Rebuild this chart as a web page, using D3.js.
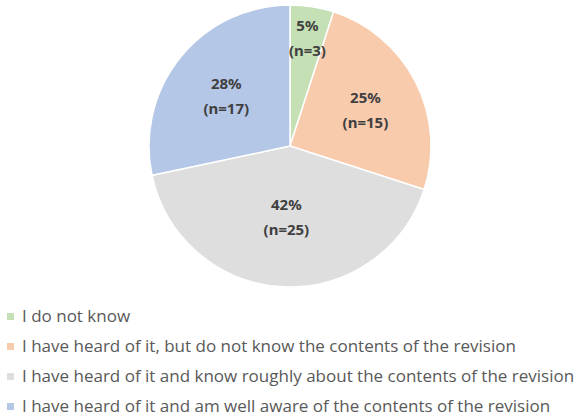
<!DOCTYPE html>
<html>
<head>
<meta charset="utf-8">
<script src="https://cdn.jsdelivr.net/npm/d3@7"></script>
<style>
  body { margin: 0; background: #fff; }
  svg { display: block; }
</style>
</head>
<body>
<script>
const width = 579
const height = 416

// data
const categories = [
  "I do not know",
  "I have heard of it, but do not know the contents of the revision",
  "I have heard of it and know roughly about the contents of the revision",
  "I have heard of it and am well aware of the contents of the revision"
]
const counts = [3, 15, 25, 17]
const percents = ["5%", "25%", "42%", "28%"]
const colors = ["#c5e0b4", "#f8cbad", "#dedede", "#b4c7e7"]

const data = categories.map((c, i) => ({name: c, n: counts[i], pct: percents[i], color: colors[i]}))

const cx = 290, cy = 146, R = 141

const svg = d3.select("body").append("svg").attr("width", width).attr("height", height)

const pie = d3.pie().sort(null).value(d => d.n)
const arc = d3.arc().innerRadius(0).outerRadius(R)
const arcs = pie(data)

const g = svg.append("g").attr("transform", `translate(${cx},${cy})`)

g.selectAll("path")
  .data(arcs)
  .join("path")
    .attr("d", arc)
    .attr("fill", d => d.data.color)
    .attr("stroke", "#fff")
    .attr("stroke-width", 1.5)

// label at the area centroid of the sector, narrow slices pushed out to the rim
function labelPos(d) {
  const half = (d.endAngle - d.startAngle) / 2
  let r = 2 * R * Math.sin(half) / (3 * half)
  if (half * 2 < 0.6) r = R * 0.79
  return d3.arc().innerRadius(r).outerRadius(r).centroid(d)
}

const labels = g.append("g")
    .attr("font-family", "'Noto Sans', sans-serif")
    .attr("font-weight", "bold")
    .attr("font-size", 15)
    .attr("fill", "#404040")
    .attr("text-anchor", "middle")
  .selectAll("g")
  .data(arcs)
  .join("g")
    .attr("transform", d => `translate(${labelPos(d)})`)

labels.append("text")
    .attr("y", -5)
    .text(d => d.data.pct)
labels.append("text")
    .attr("y", 20)
    .text(d => `(n=${d.data.n})`)

// legend
const legend = svg.append("g")
    .attr("font-family", "'Open Sans', sans-serif")
    .attr("font-size", 17)
    .attr("fill", "#595959")
  .selectAll("g")
  .data(data)
  .join("g")
    .attr("transform", (d, i) => `translate(7,${316 + i * 30})`)

legend.append("rect")
    .attr("y", -3)
    .attr("width", 7)
    .attr("height", 7)
    .attr("fill", d => d.color)

legend.append("text")
    .attr("x", 15)
    .attr("dy", "0.35em")
    .text(d => d.name)
</script>
</body>
</html>
